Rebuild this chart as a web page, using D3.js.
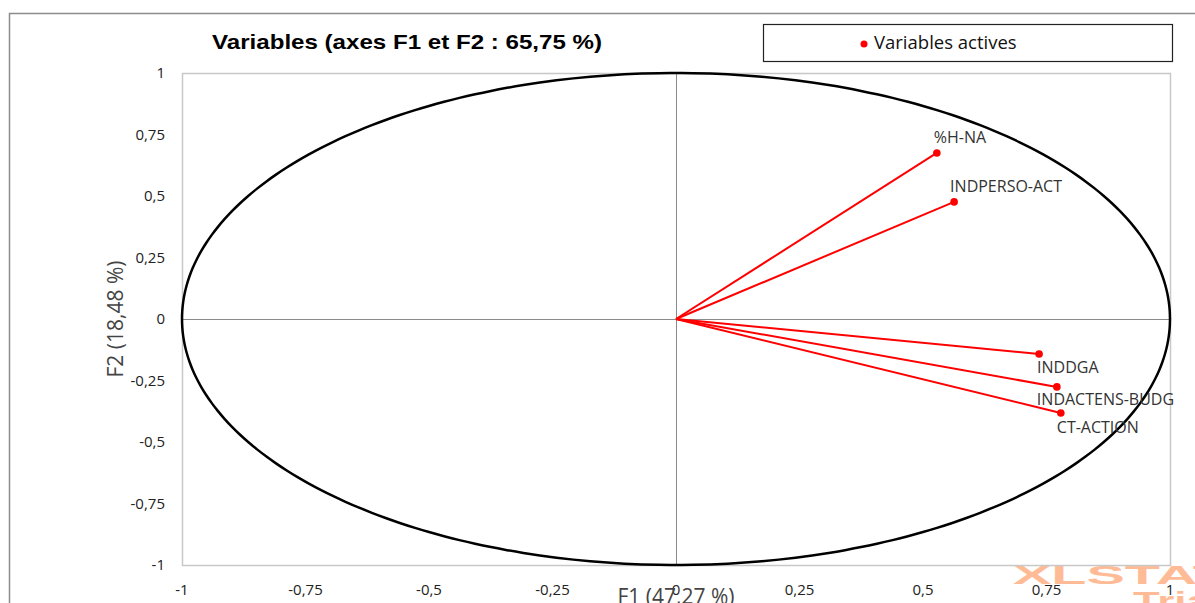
<!DOCTYPE html>
<html>
<head>
<meta charset="utf-8">
<script src="https://cdn.jsdelivr.net/npm/d3@7"></script>
<style>
  html, body { margin: 0; padding: 0; background: #fff; }
  svg { display: block; }
</style>
</head>
<body>
<svg id="chart" width="1195" height="603"></svg>
<script>
// ---- Data ----
const variables = ["%H-NA", "INDPERSO-ACT", "INDDGA", "INDACTENS-BUDG", "CT-ACTION"];
const f1Values = [0.528, 0.563, 0.735, 0.771, 0.779];
const f2Values = [0.675, 0.476, -0.142, -0.276, -0.382];
const tickValues = [-1, -0.75, -0.5, -0.25, 0, 0.25, 0.5, 0.75, 1];
const titleText = "Variables (axes F1 et F2 : 65,75 %)";
const xAxisTitle = "F1 (47,27 %)";
const yAxisTitle = "F2 (18,48 %)";
const legendLabel = "Variables actives";

// label placement (pixel offsets relative to point)
const labelDx = [-3, -4, -2, -20, -4];
const labelDy = [-16, -16, 13, 13, 14];

// ---- Layout ----
const svg = d3.select("#chart");
const W = 1195, H = 603;
const margin = { left: 182, right: 1170, top: 73, bottom: 565 };

const x = d3.scaleLinear().domain([-1, 1]).range([margin.left, margin.right]);
const y = d3.scaleLinear().domain([-1, 1]).range([margin.bottom, margin.top]);

const fmt = v => (v === 0 ? "0" : String(v).replace(".", ","));

// outer frame
svg.append("path")
  .attr("d", `M9.5,${H} L9.5,13.5 L${W},13.5`)
  .attr("fill", "none").attr("stroke", "#8c8c8c").attr("stroke-width", 1.5);

// watermark
const wm = svg.append("g").attr("opacity", 0.5);
wm.append("text")
  .attr("x", 1013).attr("y", 584)
  .attr("font-family", "Liberation Sans, Arial, sans-serif")
  .attr("font-weight", "bold").attr("font-size", 25)
  .attr("fill", "#ff7a2e")
  .attr("textLength", 215).attr("lengthAdjust", "spacingAndGlyphs")
  .text("XLSTAT");
wm.append("text")
  .attr("x", 1133).attr("y", 611)
  .attr("font-family", "Liberation Sans, Arial, sans-serif")
  .attr("font-weight", "bold").attr("font-size", 27)
  .attr("fill", "#ff7a2e")
  .attr("textLength", 90).attr("lengthAdjust", "spacingAndGlyphs")
  .text("Trial");

// plot area border
svg.append("rect")
  .attr("x", x(-1) + 0.5).attr("y", y(1) + 0.5)
  .attr("width", x(1) - x(-1)).attr("height", y(-1) - y(1))
  .attr("fill", "none").attr("stroke", "#c8c8c8").attr("stroke-width", 1.5);

// zero axes
svg.append("line")
  .attr("x1", x(0) + 0.5).attr("x2", x(0) + 0.5)
  .attr("y1", y(1)).attr("y2", y(-1))
  .attr("stroke", "#8a8a8a").attr("stroke-width", 1);
svg.append("line")
  .attr("x1", x(-1)).attr("x2", x(1))
  .attr("y1", y(0) + 0.5).attr("y2", y(0) + 0.5)
  .attr("stroke", "#8a8a8a").attr("stroke-width", 1);

// correlation circle (unit circle in data space)
const angles = d3.range(0, 361, 2).map(d => d * Math.PI / 180);
svg.append("path")
  .datum(angles)
  .attr("d", d3.line().x(a => x(Math.cos(a))).y(a => y(Math.sin(a))).curve(d3.curveCardinalClosed))
  .attr("fill", "none").attr("stroke", "#000").attr("stroke-width", 2.5);

// tick labels
const tickFont = "Open Sans, Noto Sans, sans-serif";
svg.append("g").selectAll("text").data(tickValues).join("text")
  .attr("x", 165).attr("y", d => y(d))
  .attr("dy", "0.35em")
  .attr("text-anchor", "end")
  .attr("font-family", tickFont).attr("font-size", 15)
  .attr("fill", "#222")
  .text(fmt);
svg.append("g").selectAll("text").data(tickValues).join("text")
  .attr("x", d => x(d)).attr("y", 590)
  .attr("dy", "0.35em")
  .attr("text-anchor", "middle")
  .attr("font-family", tickFont).attr("font-size", 15)
  .attr("fill", "#222")
  .text(fmt);

// axis titles
svg.append("text")
  .attr("transform", `translate(116,${y(0)}) rotate(-90)`)
  .attr("text-anchor", "middle").attr("dy", "0.35em")
  .attr("font-family", tickFont).attr("font-size", 21)
  .attr("fill", "#444")
  .text(yAxisTitle);
svg.append("text")
  .attr("x", x(0)).attr("y", 597)
  .attr("text-anchor", "middle").attr("dy", "0.35em")
  .attr("font-family", tickFont).attr("font-size", 21)
  .attr("fill", "#444")
  .text(xAxisTitle);

// title
svg.append("text")
  .attr("x", 212).attr("y", 42)
  .attr("dy", "0.35em")
  .attr("font-family", "Liberation Sans, Arial, sans-serif")
  .attr("font-weight", "bold").attr("font-size", 21)
  .attr("fill", "#000")
  .attr("textLength", 390).attr("lengthAdjust", "spacingAndGlyphs")
  .text(titleText);

// legend
svg.append("rect")
  .attr("x", 763.5).attr("y", 24.5).attr("width", 409).attr("height", 37)
  .attr("fill", "#fff").attr("stroke", "#222").attr("stroke-width", 1.2);
svg.append("circle").attr("cx", 864).attr("cy", 44).attr("r", 3.5).attr("fill", "#ff0000");
svg.append("text")
  .attr("x", 874).attr("y", 43).attr("dy", "0.35em")
  .attr("font-family", tickFont).attr("font-size", 18.5)
  .attr("fill", "#111")
  .text(legendLabel);

// vectors
const pts = variables.map((v, i) => ({ name: v, f1: f1Values[i], f2: f2Values[i], dx: labelDx[i], dy: labelDy[i] }));
svg.append("g").selectAll("line").data(pts).join("line")
  .attr("x1", x(0)).attr("y1", y(0))
  .attr("x2", d => x(d.f1)).attr("y2", d => y(d.f2))
  .attr("stroke", "#ff0000").attr("stroke-width", 2);
svg.append("g").selectAll("circle").data(pts).join("circle")
  .attr("cx", d => x(d.f1)).attr("cy", d => y(d.f2))
  .attr("r", 3.8).attr("fill", "#ff0000");
svg.append("g").selectAll("text").data(pts).join("text")
  .attr("x", d => x(d.f1) + d.dx).attr("y", d => y(d.f2) + d.dy)
  .attr("dy", "0.35em")
  .attr("font-family", tickFont).attr("font-size", 16)
  .attr("fill", "#333")
  .text(d => d.name);
</script>
</body>
</html>
